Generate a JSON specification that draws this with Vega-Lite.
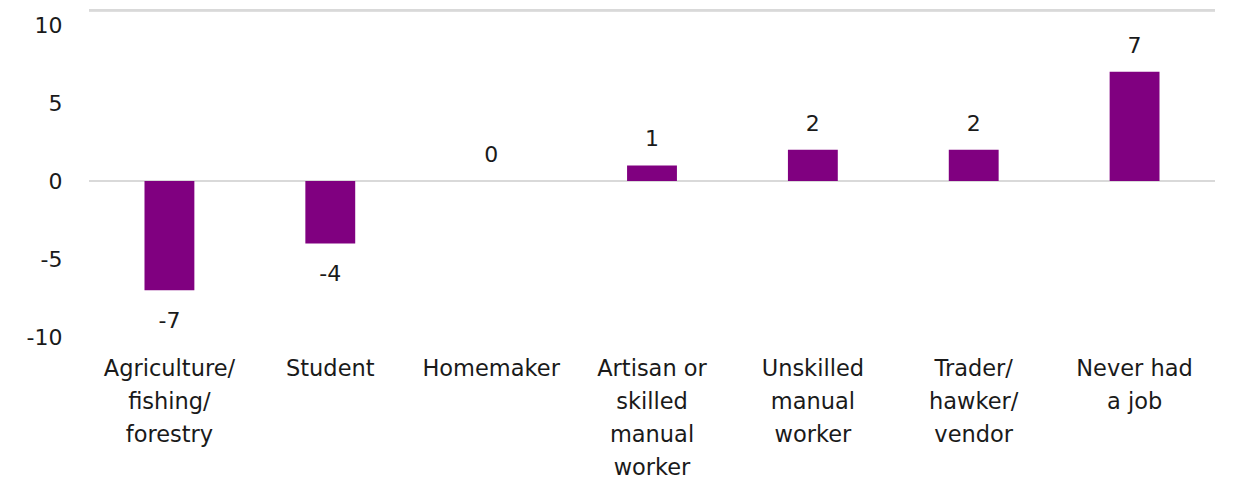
{
  "$schema": "https://vega.github.io/schema/vega-lite/v6.json",
  "width": 1126,
  "height": 312,
  "autosize": "none",
  "padding": {"left": 89, "top": 25, "right": 21, "bottom": 145},
  "background": "white",
  "config": {"view": {"stroke": null}, "font": "DejaVu Sans"},
  "data": {
    "values": [
      {"category": "Agriculture/\nfishing/\nforestry", "value": -7},
      {"category": "Student", "value": -4},
      {"category": "Homemaker", "value": 0},
      {"category": "Artisan or\nskilled\nmanual\nworker", "value": 1},
      {"category": "Unskilled\nmanual\nworker", "value": 2},
      {"category": "Trader/\nhawker/\nvendor", "value": 2},
      {"category": "Never had\na job", "value": 7}
    ]
  },
  "encoding": {
    "x": {
      "field": "category",
      "type": "nominal",
      "sort": null,
      "scale": {"paddingInner": 0.69, "paddingOuter": 0.345},
      "axis": {
        "title": null,
        "domain": false,
        "ticks": false,
        "labelAngle": 0,
        "labelExpr": "split(datum.label, '\\n')",
        "labelFontSize": 22.5,
        "labelLineHeight": 33,
        "labelColor": "#1a1a1a",
        "labelPadding": 20,
        "labelBaseline": "top",
        "labelFont": "DejaVu Sans"
      }
    }
  },
  "layer": [
    {
      "mark": {"type": "rule", "color": "#d9d9d9", "strokeWidth": 2},
      "encoding": {"y": {"datum": 0, "type": "quantitative"}, "x": null}
    },
    {
      "mark": {"type": "rule", "color": "#d9d9d9", "strokeWidth": 2},
      "encoding": {"y": {"datum": 10.95, "type": "quantitative"}, "x": null}
    },
    {
      "mark": {"type": "bar", "color": "#800080"},
      "encoding": {
        "y": {
          "field": "value",
          "type": "quantitative",
          "scale": {"domain": [-10, 10], "nice": false, "zero": true},
          "axis": {
            "title": null,
            "domain": false,
            "ticks": false,
            "grid": false,
            "values": [-10, -5, 0, 5, 10],
            "labelExpr": "toString(datum.value)",
            "labelFontSize": 22,
            "labelColor": "#1a1a1a",
            "labelPadding": 27,
            "labelFont": "DejaVu Sans"
          }
        }
      }
    },
    {
      "transform": [{"filter": "datum.value >= 0"}],
      "mark": {"type": "text", "baseline": "middle", "dy": -26, "fontSize": 22, "color": "#1a1a1a"},
      "encoding": {
        "y": {"field": "value", "type": "quantitative"},
        "text": {"field": "value", "type": "nominal"}
      }
    },
    {
      "transform": [{"filter": "datum.value < 0"}],
      "mark": {"type": "text", "baseline": "middle", "dy": 31, "fontSize": 22, "color": "#1a1a1a"},
      "encoding": {
        "y": {"field": "value", "type": "quantitative"},
        "text": {"field": "value", "type": "nominal"}
      }
    }
  ]
}
